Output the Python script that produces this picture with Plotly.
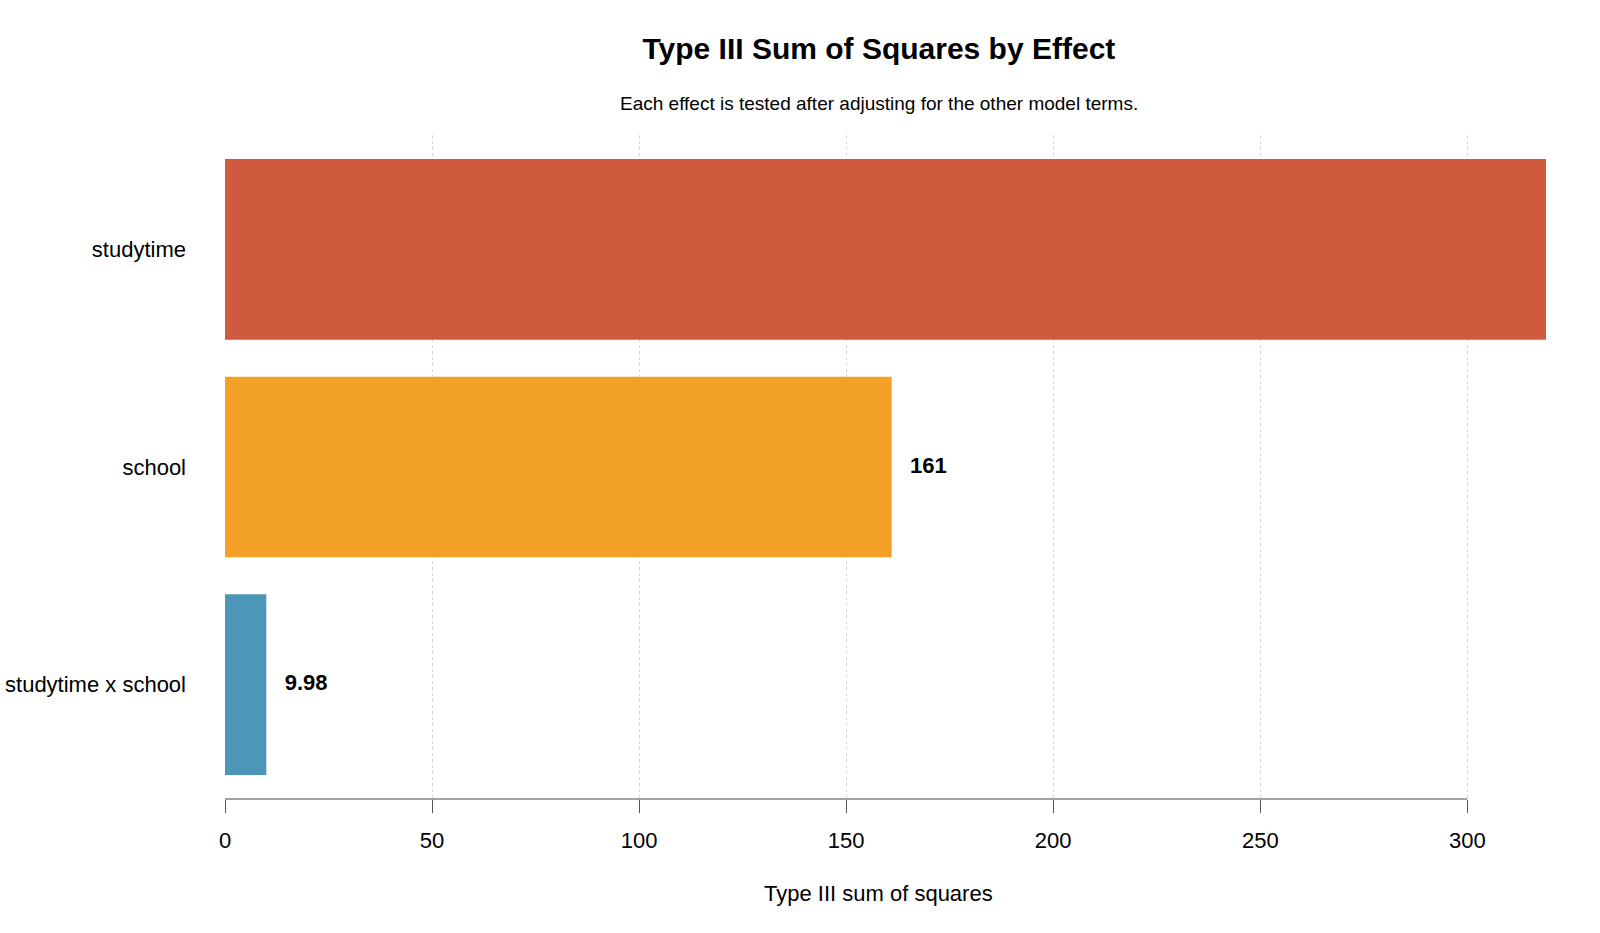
import plotly.graph_objects as go

effects = ["studytime", "school", "studytime x school"]
sum_sq = [319.0, 161.0, 9.98]
labels = ["", "161", "9.98"]  # studytime label falls outside the plot and is not shown
colors = ["#D05A3E", "#F2A026", "#4C97B8"]
tick_vals = [0, 50, 100, 150, 200, 250, 300]

fig = go.Figure()
fig.add_trace(go.Bar(
    x=sum_sq, y=effects, orientation="h",
    marker=dict(color=colors, line=dict(width=0)),
    hoverinfo="skip", showlegend=False,
))
fig.add_trace(go.Scatter(
    x=sum_sq, y=effects, mode="text",
    text=["   " + t if t else "" for t in labels], textposition="middle right",
    textfont=dict(family="Liberation Sans, Arial", size=22, color="#000000", weight="bold"),
    cliponaxis=True, hoverinfo="skip", showlegend=False,
))

fig.update_layout(
    width=1600, height=933,
    paper_bgcolor="white", plot_bgcolor="white",
    margin=dict(l=225, r=54, t=135, b=134, autoexpand=False),
    bargap=0.17,
    font=dict(family="Liberation Sans, Arial", color="#000000"),
    title=dict(
        text="<b>Type III Sum of Squares by Effect</b>",
        font=dict(size=30, color="#000000"),
        x=0.495, xref="paper", xanchor="center",
        y=1 - 48 / 933, yref="container", yanchor="middle",
    ),
    annotations=[
        dict(
            text="Each effect is tested after adjusting for the other model terms.",
            x=0.495, xref="paper", y=1.048, yref="paper",
            xanchor="center", yanchor="middle", showarrow=False,
            font=dict(size=19, color="#000000"),
        ),
        dict(
            text="Type III sum of squares",
            x=0.495, xref="paper", y=-0.1416, yref="paper",
            xanchor="center", yanchor="middle", showarrow=False,
            font=dict(size=22, color="#000000"),
        ),
    ],
    shapes=[dict(
        type="line", xref="x", yref="paper",
        x0=tick_vals[0], x1=tick_vals[-1], y0=0, y1=0,
        line=dict(color="#444444", width=1), layer="above",
    )],
)

fig.update_xaxes(
    range=[0, 319], tickvals=tick_vals,
    showgrid=True, gridcolor="#d4d4d4", griddash="dot", gridwidth=1,
    zeroline=False, showline=False,
    ticks="outside", ticklen=13, tickcolor="#555555",
    tickfont=dict(size=22), ticklabelstandoff=9,
    layer="above traces", automargin=False,
)
fig.update_yaxes(
    type="category", categoryorder="array", categoryarray=effects,
    range=[2.525, -0.525], showgrid=False, zeroline=False, showline=False,
    ticks="", tickfont=dict(size=22), ticklabelstandoff=38, automargin=False,
)

fig.write_html("out.html")
